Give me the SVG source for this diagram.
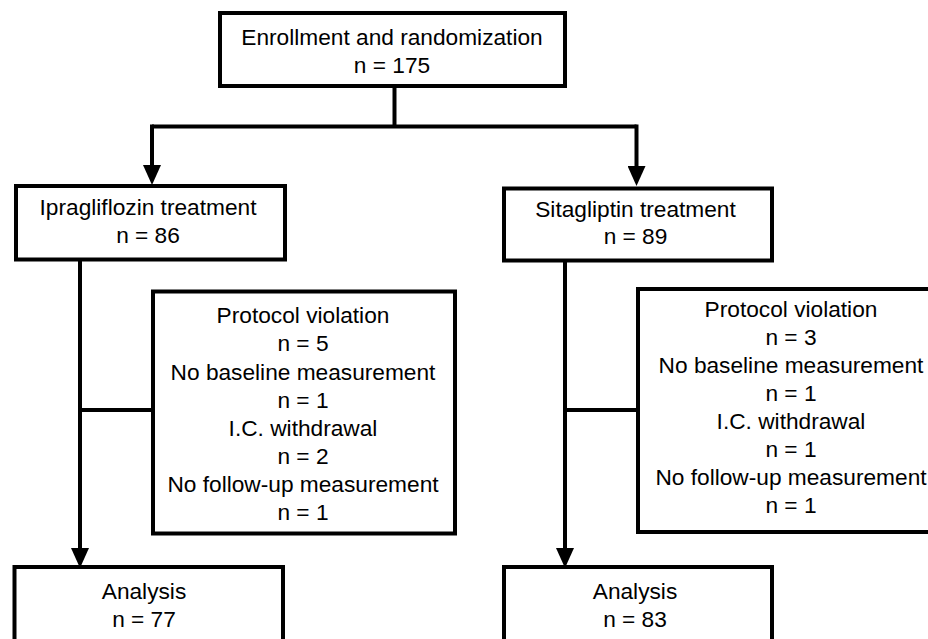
<svg xmlns="http://www.w3.org/2000/svg" width="928" height="639" viewBox="0 0 928 639">
  <style>
    .box { fill: #ffffff; stroke: #000000; stroke-width: 4; }
    .conn { fill: none; stroke: #000000; stroke-width: 4; }
    text { font-family: "Liberation Sans", Arial, sans-serif; font-size: 22.7px; fill: #000000; text-anchor: middle; }
  </style>
  <defs>
    <marker id="arrow" markerUnits="userSpaceOnUse" markerWidth="20" markerHeight="18" refX="10" refY="9" orient="auto" viewBox="0 0 20 18">
      <path d="M0,0 L20,9 L0,18 Z" fill="#000000"/>
    </marker>
  </defs>
  <rect width="928" height="639" fill="#ffffff"/>

  <g id="connectors">
    <path class="conn" d="M394.5,86 V126.5"/>
    <path class="conn" d="M152,126.5 H636.5"/>
    <path class="conn" d="M152,124.5 V175" marker-end="url(#arrow)"/>
    <path class="conn" d="M636.5,124.5 V176" marker-end="url(#arrow)"/>
    <path class="conn" d="M80,259.5 V558" marker-end="url(#arrow)"/>
    <path class="conn" d="M80,410 H153"/>
    <path class="conn" d="M565,260.5 V558" marker-end="url(#arrow)"/>
    <path class="conn" d="M565,410 H638"/>
  </g>

  <g id="enrollment">
    <rect class="box" x="220" y="13" width="345" height="73"/>
    <text x="392" y="45">Enrollment and randomization</text>
    <text x="392" y="72.7">n = 175</text>
  </g>

  <g id="ipragliflozin">
    <rect class="box" x="16" y="186" width="269" height="73.5"/>
    <text x="148" y="215">Ipragliflozin treatment</text>
    <text x="148" y="242.7">n = 86</text>
  </g>

  <g id="sitagliptin">
    <rect class="box" x="504" y="188.5" width="268" height="72"/>
    <text x="635.5" y="216.7">Sitagliptin treatment</text>
    <text x="635.5" y="244">n = 89</text>
  </g>

  <g id="exclusions-ipragliflozin">
    <rect class="box" x="153" y="291.5" width="302" height="242"/>
    <text x="303" y="323.3">Protocol violation</text>
    <text x="303" y="351.4">n = 5</text>
    <text x="303" y="379.5">No baseline measurement</text>
    <text x="303" y="407.6">n = 1</text>
    <text x="303" y="435.7">I.C. withdrawal</text>
    <text x="303" y="463.8">n = 2</text>
    <text x="303" y="491.9">No follow-up measurement</text>
    <text x="303" y="520">n = 1</text>
  </g>

  <g id="exclusions-sitagliptin">
    <rect class="box" x="638" y="289" width="306" height="243"/>
    <text x="791" y="316.7">Protocol violation</text>
    <text x="791" y="344.7">n = 3</text>
    <text x="791" y="372.7">No baseline measurement</text>
    <text x="791" y="400.7">n = 1</text>
    <text x="791" y="428.7">I.C. withdrawal</text>
    <text x="791" y="456.7">n = 1</text>
    <text x="791" y="484.7">No follow-up measurement</text>
    <text x="791" y="512.7">n = 1</text>
  </g>

  <g id="analysis-ipragliflozin">
    <rect class="box" x="14.5" y="567" width="268.5" height="85"/>
    <text x="144" y="599">Analysis</text>
    <text x="144" y="626.7">n = 77</text>
  </g>

  <g id="analysis-sitagliptin">
    <rect class="box" x="504" y="567" width="268" height="85"/>
    <text x="635" y="599">Analysis</text>
    <text x="635" y="626.7">n = 83</text>
  </g>
</svg>
